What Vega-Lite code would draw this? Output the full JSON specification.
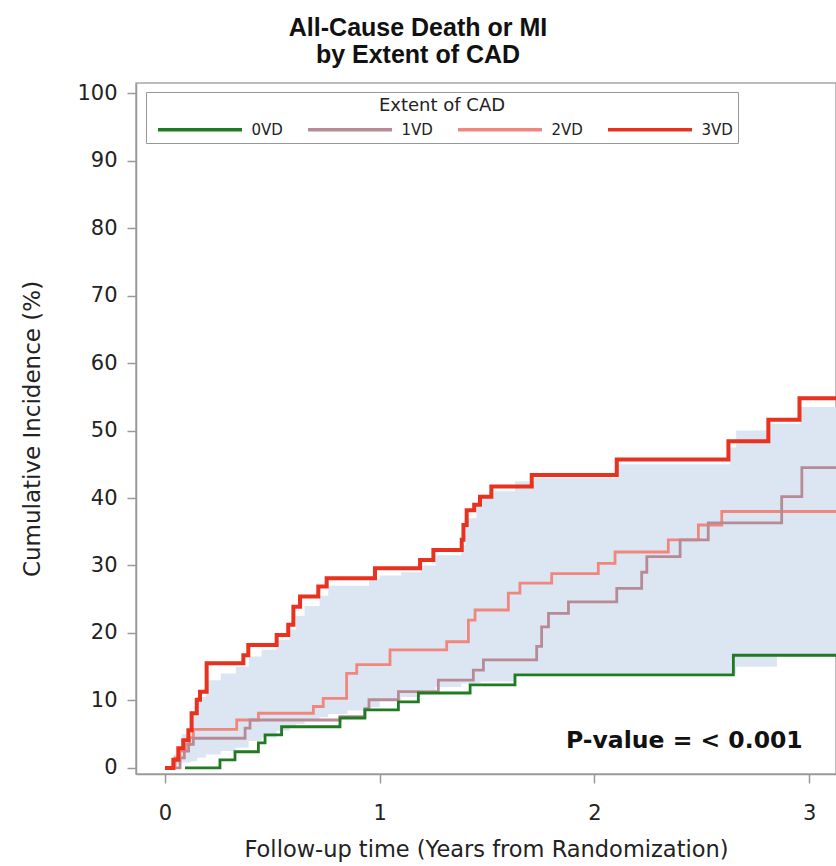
{
  "$schema": "https://vega.github.io/schema/vega-lite/v6.json",
  "autosize": "none",
  "padding": {"left": 136, "top": 83, "right": 0, "bottom": 92},
  "width": 700,
  "height": 691,
  "background": "white",
  "config": {
    "view": {"stroke": "#a8a8a8", "strokeWidth": 1.5},
    "font": "DejaVu Sans",
    "axis": {"grid": false, "domainColor": "#999999", "domainWidth": 1.5, "tickColor": "#999999", "tickWidth": 1.5, "tickSize": 9, "labelColor": "#222222", "titleColor": "#222222", "labelFont": "DejaVu Sans", "titleFont": "DejaVu Sans", "titleFontWeight": "normal"}
  },
  "title": {
    "text": ["All-Cause Death or MI", "by Extent of CAD"],
    "font": "Liberation Sans",
    "fontSize": 25,
    "fontWeight": "bold",
    "color": "#111111",
    "anchor": "middle",
    "dx": -68,
    "lineHeight": 27,
    "offset": 14
  },
  "datasets": {
    "curves": [
      {"group": "3VD", "t": 0, "inc": 0},
      {"group": "3VD", "t": 0.039, "inc": 1.2},
      {"group": "3VD", "t": 0.062, "inc": 2.9},
      {"group": "3VD", "t": 0.085, "inc": 4.1},
      {"group": "3VD", "t": 0.109, "inc": 5.6},
      {"group": "3VD", "t": 0.124, "inc": 8.1},
      {"group": "3VD", "t": 0.148, "inc": 10.1},
      {"group": "3VD", "t": 0.163, "inc": 11.3},
      {"group": "3VD", "t": 0.194, "inc": 15.5},
      {"group": "3VD", "t": 0.365, "inc": 16.7},
      {"group": "3VD", "t": 0.388, "inc": 18.2},
      {"group": "3VD", "t": 0.52, "inc": 19.7},
      {"group": "3VD", "t": 0.574, "inc": 21.2},
      {"group": "3VD", "t": 0.598, "inc": 23.9},
      {"group": "3VD", "t": 0.629, "inc": 25.4},
      {"group": "3VD", "t": 0.714, "inc": 26.9},
      {"group": "3VD", "t": 0.753, "inc": 28.1},
      {"group": "3VD", "t": 0.978, "inc": 29.6},
      {"group": "3VD", "t": 1.188, "inc": 30.8},
      {"group": "3VD", "t": 1.25, "inc": 32.3},
      {"group": "3VD", "t": 1.382, "inc": 33.8},
      {"group": "3VD", "t": 1.39, "inc": 36.0},
      {"group": "3VD", "t": 1.405, "inc": 38.2},
      {"group": "3VD", "t": 1.44, "inc": 39.0},
      {"group": "3VD", "t": 1.467, "inc": 40.2},
      {"group": "3VD", "t": 1.52, "inc": 41.7},
      {"group": "3VD", "t": 1.708, "inc": 43.4},
      {"group": "3VD", "t": 2.104, "inc": 45.7},
      {"group": "3VD", "t": 2.624, "inc": 48.4},
      {"group": "3VD", "t": 2.81, "inc": 51.6},
      {"group": "3VD", "t": 2.955, "inc": 54.8},
      {"group": "3VD", "t": 3.13, "inc": 54.8},
      {"group": "2VD", "t": 0.025, "inc": 0},
      {"group": "2VD", "t": 0.047, "inc": 1.5},
      {"group": "2VD", "t": 0.07, "inc": 2.5},
      {"group": "2VD", "t": 0.095, "inc": 3.5},
      {"group": "2VD", "t": 0.115, "inc": 4.5},
      {"group": "2VD", "t": 0.132, "inc": 5.7},
      {"group": "2VD", "t": 0.334, "inc": 7.1},
      {"group": "2VD", "t": 0.435, "inc": 8.1},
      {"group": "2VD", "t": 0.691, "inc": 9.1},
      {"group": "2VD", "t": 0.737, "inc": 10.3},
      {"group": "2VD", "t": 0.846, "inc": 14.0},
      {"group": "2VD", "t": 0.893, "inc": 15.3},
      {"group": "2VD", "t": 1.048, "inc": 17.5},
      {"group": "2VD", "t": 1.312, "inc": 18.7},
      {"group": "2VD", "t": 1.413, "inc": 21.9},
      {"group": "2VD", "t": 1.444, "inc": 23.4},
      {"group": "2VD", "t": 1.599, "inc": 25.9},
      {"group": "2VD", "t": 1.653, "inc": 27.4},
      {"group": "2VD", "t": 1.801, "inc": 28.8},
      {"group": "2VD", "t": 2.018, "inc": 30.3},
      {"group": "2VD", "t": 2.096, "inc": 32.0},
      {"group": "2VD", "t": 2.344, "inc": 33.8},
      {"group": "2VD", "t": 2.484, "inc": 36.0},
      {"group": "2VD", "t": 2.593, "inc": 38.0},
      {"group": "2VD", "t": 3.13, "inc": 38.0},
      {"group": "1VD", "t": 0.05, "inc": 0},
      {"group": "1VD", "t": 0.07, "inc": 1.5},
      {"group": "1VD", "t": 0.09, "inc": 2.5},
      {"group": "1VD", "t": 0.11, "inc": 3.5},
      {"group": "1VD", "t": 0.132, "inc": 4.4},
      {"group": "1VD", "t": 0.373, "inc": 5.9},
      {"group": "1VD", "t": 0.396, "inc": 7.1},
      {"group": "1VD", "t": 0.815, "inc": 7.6},
      {"group": "1VD", "t": 0.931, "inc": 8.8},
      {"group": "1VD", "t": 0.95, "inc": 10.1},
      {"group": "1VD", "t": 1.087, "inc": 11.3},
      {"group": "1VD", "t": 1.273, "inc": 13.0},
      {"group": "1VD", "t": 1.436, "inc": 14.5},
      {"group": "1VD", "t": 1.483, "inc": 16.0},
      {"group": "1VD", "t": 1.731, "inc": 18.0},
      {"group": "1VD", "t": 1.754, "inc": 20.9},
      {"group": "1VD", "t": 1.786, "inc": 22.9},
      {"group": "1VD", "t": 1.879, "inc": 24.6},
      {"group": "1VD", "t": 2.104, "inc": 26.6},
      {"group": "1VD", "t": 2.22, "inc": 29.0},
      {"group": "1VD", "t": 2.244, "inc": 31.3},
      {"group": "1VD", "t": 2.399, "inc": 33.8},
      {"group": "1VD", "t": 2.53, "inc": 36.3},
      {"group": "1VD", "t": 2.872, "inc": 40.2},
      {"group": "1VD", "t": 2.966, "inc": 44.5},
      {"group": "1VD", "t": 3.13, "inc": 44.5},
      {"group": "0VD", "t": 0.093, "inc": 0},
      {"group": "0VD", "t": 0.256, "inc": 1.2},
      {"group": "0VD", "t": 0.326, "inc": 2.4},
      {"group": "0VD", "t": 0.435, "inc": 3.7},
      {"group": "0VD", "t": 0.466, "inc": 4.9},
      {"group": "0VD", "t": 0.543, "inc": 6.1},
      {"group": "0VD", "t": 0.815, "inc": 7.4},
      {"group": "0VD", "t": 0.931, "inc": 8.6},
      {"group": "0VD", "t": 1.087, "inc": 9.8},
      {"group": "0VD", "t": 1.18, "inc": 11.1},
      {"group": "0VD", "t": 1.421, "inc": 12.3},
      {"group": "0VD", "t": 1.63, "inc": 13.8},
      {"group": "0VD", "t": 2.647, "inc": 16.7},
      {"group": "0VD", "t": 3.13, "inc": 16.7}
    ],
    "band": [
      {"t": 0.04, "hi": 2, "lo": 0.5},
      {"t": 0.08, "hi": 5, "lo": 0.8},
      {"t": 0.12, "hi": 8, "lo": 1},
      {"t": 0.15, "hi": 10.5, "lo": 1.5},
      {"t": 0.19, "hi": 13, "lo": 2},
      {"t": 0.26, "hi": 14, "lo": 2.5},
      {"t": 0.33, "hi": 15, "lo": 3},
      {"t": 0.39, "hi": 16.5, "lo": 4},
      {"t": 0.45, "hi": 17.5, "lo": 4.5},
      {"t": 0.52, "hi": 19, "lo": 5.5},
      {"t": 0.58, "hi": 20.5, "lo": 6},
      {"t": 0.61, "hi": 22.5, "lo": 6.5},
      {"t": 0.65, "hi": 24, "lo": 7},
      {"t": 0.72, "hi": 25.5, "lo": 7.5},
      {"t": 0.76, "hi": 27, "lo": 8},
      {"t": 0.85, "hi": 27, "lo": 8.5},
      {"t": 0.95, "hi": 28, "lo": 9},
      {"t": 1.0, "hi": 28.5, "lo": 10},
      {"t": 1.1, "hi": 29, "lo": 10.5},
      {"t": 1.19, "hi": 30, "lo": 11.5},
      {"t": 1.26, "hi": 31.5, "lo": 12},
      {"t": 1.38, "hi": 33, "lo": 12.5},
      {"t": 1.4, "hi": 37, "lo": 12.5},
      {"t": 1.45, "hi": 39, "lo": 12.5},
      {"t": 1.47, "hi": 40.5, "lo": 12.8},
      {"t": 1.53, "hi": 41, "lo": 12.8},
      {"t": 1.63, "hi": 42.5, "lo": 14},
      {"t": 1.72, "hi": 43, "lo": 14},
      {"t": 2.11, "hi": 45, "lo": 14},
      {"t": 2.63, "hi": 47.5, "lo": 14},
      {"t": 2.66, "hi": 50, "lo": 15},
      {"t": 2.81, "hi": 51, "lo": 15},
      {"t": 2.85, "hi": 51, "lo": 16.5},
      {"t": 2.96, "hi": 53.5, "lo": 16.5},
      {"t": 3.13, "hi": 53.5, "lo": 16.5}
    ],
    "note": [
      {"label": "P-value = < 0.001", "t": 2.97, "inc": 4.0}
    ]
  },
  "layer": [
    {
      "data": {"name": "band"},
      "mark": {"type": "area", "interpolate": "step-after", "color": "#dce6f2", "clip": true},
      "encoding": {
        "x": {"field": "t", "type": "quantitative", "scale": {"domain": [-0.135, 3.125], "nice": false, "zero": false},
              "axis": {"values": [0, 1, 2, 3], "format": "d", "labelFontSize": 21, "labelPadding": 19, "title": "Follow-up time (Years from Randomization)", "titleFontSize": 22.5, "titlePadding": 15}},
        "y": {"field": "hi", "type": "quantitative", "scale": {"domain": [-0.9, 101.5], "nice": false, "zero": false},
              "axis": {"values": [0, 10, 20, 30, 40, 50, 60, 70, 80, 90, 100], "labelFontSize": 21, "labelPadding": 10, "title": "Cumulative Incidence (%)", "titleFontSize": 23, "titlePadding": 32}},
        "y2": {"field": "lo"}
      }
    },
    {
      "data": {"name": "curves"},
      "transform": [{"filter": "datum.group != '3VD'"}],
      "mark": {"type": "line", "interpolate": "step-after", "strokeWidth": 2.8, "clip": true},
      "encoding": {
        "x": {"field": "t", "type": "quantitative"},
        "y": {"field": "inc", "type": "quantitative"},
        "detail": {"field": "group"},
        "color": {"field": "group", "type": "nominal",
                  "scale": {"domain": ["0VD", "1VD", "2VD", "3VD"], "range": ["#1f7a22", "#b88a95", "#f0867c", "#e8321f"]},
                  "legend": {"orient": "none", "legendX": 10, "legendY": 9, "direction": "horizontal", "columns": 4,
                             "title": "Extent of CAD", "titleAnchor": "middle", "titleFontSize": 18, "titleFontWeight": "normal", "titleColor": "#222222", "titlePadding": 2,
                             "labelFontSize": 15, "labelColor": "#222222", "labelOffset": 39,
                             "symbolType": "M-4,0H4", "symbolSize": 441, "symbolOffset": 36.5, "symbolStrokeWidth": 3.5,
                             "columnPadding": 18, "padding": 5, "strokeColor": "#999999", "fillColor": "white"}}
      }
    },
    {
      "data": {"name": "curves"},
      "transform": [{"filter": "datum.group == '3VD'"}],
      "mark": {"type": "line", "interpolate": "step-after", "strokeWidth": 4, "clip": true},
      "encoding": {
        "x": {"field": "t", "type": "quantitative"},
        "y": {"field": "inc", "type": "quantitative"},
        "color": {"field": "group", "type": "nominal"}
      }
    },
    {
      "data": {"name": "note"},
      "mark": {"type": "text", "align": "right", "baseline": "middle", "font": "DejaVu Sans", "fontWeight": "bold", "fontSize": 23.5, "color": "#111111"},
      "encoding": {
        "x": {"field": "t", "type": "quantitative"},
        "y": {"field": "inc", "type": "quantitative"},
        "text": {"field": "label"}
      }
    }
  ]
}
